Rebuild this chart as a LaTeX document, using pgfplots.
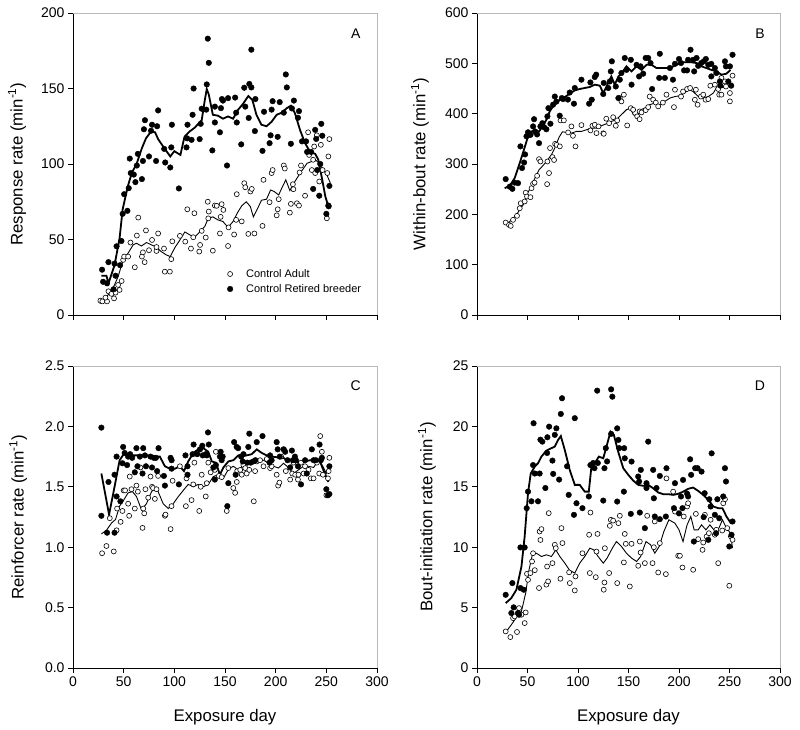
\documentclass[border=0pt]{standalone}
\usepackage{fontspec}
\setmainfont{Liberation Sans}
\usepackage{pgfplots}
\pgfplotsset{compat=1.18}
\pgfplotsset{
  panel/.style={
    scale only axis, width=304pt, height=302pt,
    xmin=0, xmax=300, xtick={0,50,...,300},
    axis x line*=bottom, axis y line*=left,
    axis line style={-, line width=0.8pt, black},
    tick align=outside, major tick length=5pt,
    tick style={black, line width=0.7pt},
    ticklabel style={font=\fontsize{14}{16}\selectfont},
    label style={font=\fontsize{16.8}{19}\selectfont},
    /pgf/number format/assume math mode=true,
    xlabel style={at={(axis description cs:0.5,-0.162)}, anchor=center},
    clip=false,
  },
  openpts/.style={only marks, mark=*, mark size=2.5pt, mark options={fill=white, draw=black, line width=0.6pt},
    legend image code/.code={\draw[##1] plot coordinates {(0pt,0pt)}; \path[draw=none,fill=none] (-3pt,0pt) -- (14pt,0pt);}},
  fullpts/.style={only marks, mark=*, mark size=2.8pt, mark options={fill=black, draw=black},
    legend image code/.code={\draw[##1] plot coordinates {(0pt,0pt)}; \path[draw=none,fill=none] (-3pt,0pt) -- (14pt,0pt);}},
  boldline/.style={no marks, black, line width=1.8pt, forget plot},
  thinline/.style={no marks, black, line width=0.9pt, forget plot},
}
\newcommand{\frameTR}{\draw[gray!55, line width=0.6pt] (rel axis cs:0,1) -- (rel axis cs:1,1) -- (rel axis cs:1,0);}
\begin{document}
\begin{tikzpicture}
\path[use as bounding box] (0,0) rectangle (800pt,729pt);

% ---------------- Panel A ----------------
\begin{axis}[panel, at={(73pt,414pt)}, anchor=south west,
  ymin=0, ymax=200, ytick={0,50,...,200}, xticklabels={},
  ylabel={Response rate (min\textsuperscript{-1})},
  ylabel style={at={(axis description cs:-0.184,0.5)}, anchor=center, rotate=0},
  legend style={at={(rel axis cs:0.503,0.162)}, anchor=north west, draw=none, fill=none,
    font=\fontsize{11}{13}\selectfont, row sep=1.5pt, inner sep=1pt},
  legend cell align=left]
\frameTR
\node[font=\fontsize{14}{16}\selectfont] at (rel axis cs:0.93,0.93) {A};
\addplot[openpts] coordinates {(27,9.5)(29,9)(33.6,9)(32,11.5)(35,15.7)(38,14)(40.5,11)(42,14.8)(44.5,19.9)(46,16.6)(48,22.5)(49.5,36.5)(50.5,38.7)(54.4,38.7)(56.7,48)(61,31.6)(63,52.6)(64.4,64.5)(68,38.7)(69,41.5)(70.7,35)(72,56)(75,42.9)(78,49.7)(82.4,42.4)(84,54)(82.4,45)(90.6,28.7)(95.6,28.7)(89.8,44)(97,37)(98,48.8)(105.5,52.4)(110.8,48.6)(112.8,70)(116.4,44)(118.7,51.5)(119.8,67.4)(124.6,42)(125.4,46.4)(127,55.7)(131,51.3)(133,75)(134,68.5)(133.5,64)(138,42.6)(140,72.5)(141.8,72.3)(145,54)(145.7,65)(146.7,73.4)(148.4,69.6)(153,45.7)(153.5,58)(159,53.3)(161,63)(161.6,80)(166.5,62)(169,87.3)(170,84.6)(173,53.7)(175,81.8)(176.4,83.5)(179,54)(187,59)(188,89.5)(194,74.7)(196,94)(197,96)(201,66)(202,70)(203,76.7)(208,99)(209,97)(214,67.8)(217,86.6)(217.5,83.3)(215,73.6)(221,74)(223,72.5)(223.6,94.4)(225,99)(229,79)(232,121)(233,106)(235.7,96)(237,102.8)(238,111.6)(239,94)(240.6,119)(243,88.4)(244.6,112.7)(246.3,96)(250.5,64)(251,94)(252,105)(253,116.5)};
\addlegendentry{Control Adult}
\addplot[fullpts] coordinates {(28.7,30)(29.7,22)(35,35)(33.6,21)(40,17)(41,34)(42,26)(43,45.5)(46.5,33)(47.8,49)(49,67)(50.5,80)(53.7,69)(55,84)(56,103.6)(57,94)(60,93)(61.6,88)(63,99)(64,106.7)(68,90)(69,102)(70,123)(71,129)(75,105)(77,122)(78,126)(82,102)(83,125)(84,135.5)(90,110)(91,101)(96,97.7)(97,111)(97.6,126)(104.5,83.8)(112,111)(112.6,117)(113,126)(117,116)(118,132.6)(119,150)(125,116.5)(126,126.6)(127,136.6)(132,152.7)(133,183)(134,167)(131.5,136)(137.5,109)(140,138)(140,127.5)(145,121)(146,137)(147,143)(148,142)(153,143.6)(152,99)(160,144)(161,134)(161.6,127.5)(166,113)(169,150.5)(170,138)(174,153)(176,150.7)(173.4,130.5)(176,175.7)(180,143)(179.5,121.8)(187,108.7)(188.5,134.6)(194,113.8)(195,119)(196,136)(197,141.6)(202,118)(204,141)(210,159.3)(211,150.7)(208,134)(215,113.4)(216,136.8)(218,142)(222,130.6)(223,135)(226,115)(230,115)(231,108)(235,108)(237,83.5)(239,122.6)(240,116.6)(241,96)(243,79)(245,126.6)(246,118.7)(244,100)(250,67)(252,72.5)(253,85.5)(252.3,72)};
\addlegendentry{Control Retired breeder}
\addplot[thinline] coordinates {(26.4,7.7)(33,12)(38,16)(41,20)(44.5,25.4)(49.5,36.5)(54.4,41)(59.3,46.4)(62.6,47.5)(67.6,45.7)(72.5,48)(77.5,46.4)(82.4,45)(87,42)(92,39.8)(96,38.7)(100.5,44.6)(105.5,49.7)(110.4,55)(115.4,53)(120,51.5)(125,55)(130,58.6)(133.5,64)(138,65)(143,63)(148,61.9)(153,58)(158,62)(162,67.4)(166.5,72.3)(171,75)(175,71.8)(178,65)(181.5,69.6)(186,76)(191,76.7)(195,82.8)(198.5,81.8)(203,79.5)(206,84)(210,89.5)(214,82.4)(217.5,86.8)(221,90.6)(226,95.7)(231,100.5)(235.7,101.7)(240,102.3)(243,100.5)(247,96)(250.5,92.8)(254,87.3)};
\addplot[boldline] coordinates {(28,26)(33,26)(35,21)(41,33)(46,51)(49,70)(54,85)(58,94)(63,100.5)(68,110.5)(72,117)(77,121.5)(81,121)(84,116.5)(89,111.5)(96,105)(100,108.5)(106,106)(110,118)(115,121.5)(120,124)(127,129)(130,142)(132,149.6)(134,146)(138,132.6)(143,132)(148,130)(153,131.5)(158,130)(163,136)(168,140)(173,145)(177,142.5)(181,132.6)(186,126)(191,125)(196,128)(201,132.6)(206,134)(211,137)(215,138.6)(219,133.7)(224,122.6)(229,113.8)(234,108)(239,106.7)(242,103)(246,89.5)(249,78.5)(252,72)};
\end{axis}

% ---------------- Panel B ----------------
\begin{axis}[panel, at={(477pt,414pt)}, anchor=south west, width=303pt,
  ymin=0, ymax=600, ytick={0,100,...,600}, xticklabels={},
  ylabel={Within-bout rate (min\textsuperscript{-1})},
  ylabel style={at={(axis description cs:-0.188,0.5)}, anchor=center}]
\frameTR
\node[font=\fontsize{14}{16}\selectfont] at (rel axis cs:0.934,0.93) {B};
\addplot[openpts] coordinates {(28.4,183.7)(31.7,179)(33.4,177)(35.7,189)(39.6,197)(42.3,212)(43.3,222)(47.2,225.5)(48.2,243)(49.5,235.4)(52.9,234)(54,252)(55.5,260.6)(57,263)(59.5,276.5)(61.4,309.7)(62.8,305)(69.4,260)(69.7,305)(71.3,282)(72.3,331.6)(74.7,313.7)(76.3,308)(77.3,340)(78.8,338)(82,335)(82.7,386.6)(86,386.6)(90.2,362.7)(93.5,374.7)(95,356)(97.5,335)(103.4,377.3)(112.3,366.7)(114.3,376)(116.6,378)(118.3,361.4)(120.3,374.7)(125,361)(125.5,360)(128,390)(130.8,381)(134.8,393)(137.4,376)(138.8,386.6)(141.4,431)(143,424.4)(145.4,437.7)(148.7,376.6)(152.3,411)(154.6,407.8)(158.6,394.6)(161,404.5)(161,389)(162.9,402.5)(167,407)(169.5,413)(171,434)(174.4,427.7)(177,422)(179.4,414.5)(184,422)(187.6,437.7)(195,413)(196,447.6)(202,434)(204,444)(208,449)(211,451)(215.7,427.7)(218.4,417.8)(216.7,447.6)(221.7,434)(224,437.7)(226.3,427.7)(229,429)(231,455.6)(235.5,457.6)(238.8,449)(239.8,437.7)(242,437.7)(242,471)(245.5,464)(246.5,454)(250.4,441)(250.4,424.4)(253,475.5)};
\addplot[fullpts] coordinates {(28.4,270)(32.4,255)(35,250.7)(37.3,263)(40.6,262)(43,335)(44.6,292)(46.6,303)(47.6,319)(49,355)(50.5,363)(51.5,358)(53,358)(55.5,374.7)(56.5,389)(57.5,364.7)(59.5,358.8)(61.4,341.5)(62.8,374.7)(64.7,381)(66.4,373)(68.7,369)(69.7,394.6)(70.7,411)(72.7,380)(75.3,417.8)(77,434)(78.6,424)(81.9,396)(84,431)(85.2,429)(90,428)(91.8,442)(96.8,451)(96,419.8)(103.4,467.5)(111,419.8)(112.3,462)(113.6,427.7)(116.6,472.8)(118,477.5)(125,439)(125.5,461)(130,451)(131.5,464)(132.5,484)(133.5,504)(137.4,454)(140,431)(141.4,467.5)(143,480.8)(146.3,510.6)(148,487)(152.3,507)(153,457.6)(158,497)(160.5,474)(161.9,494)(164.5,479.4)(167,510.6)(169.5,510.6)(171.8,500.6)(181,519)(180.4,471)(173.4,449)(186,471)(191,490.7)(194,467.5)(196,499)(200,508.6)(202,500.6)(205,486)(208,486)(209,507)(211.4,527)(214,507)(215,484)(217.4,510.6)(219,495)(222,500.6)(224.6,504)(226.6,508.6)(229,497)(232,499)(232,474)(235.5,490.7)(237,480.8)(240.5,464)(241,455.6)(245.5,504)(246.5,494)(248.8,464)(250.4,494)(253,517)(251.7,455.6)};
\addplot[thinline] coordinates {(28.4,181)(32.4,185.7)(35.7,192.3)(39,199)(42.3,209)(46.3,220.8)(50,242)(53.8,255.3)(58,275)(61.4,288.5)(65.4,297)(68.7,305)(73.7,318.3)(77,331.6)(81.3,353.4)(84.6,364)(88.5,362.7)(93.5,361.4)(98.4,364.7)(103.4,364.7)(108.4,368)(113.3,371)(118.3,371)(123.2,376)(128.2,380)(133,384.6)(138,388)(143,398)(148,408)(152.3,411)(154.6,398)(158,394.6)(162,407.8)(166,411)(171,417.8)(176,421)(181,417.8)(186,424.4)(191,431)(196,434)(201,435.7)(206,442)(210,447.6)(214,444)(219,434)(224,431)(229,434)(234,441)(237,451)(241,453)(245.5,451)(250.4,457.6)(253,461)};
\addplot[boldline] coordinates {(27.4,252)(32.4,256.6)(37.3,272)(42.3,301.7)(47,331.6)(50.5,354.8)(53.8,364.7)(57,366)(61.4,364.7)(65.4,376)(68.7,388)(72,404.5)(75.3,414.5)(78.6,421)(82,427.7)(87,433)(91.8,439.7)(96.8,446.3)(101.7,449)(106.7,451)(111.7,453)(116.6,457.6)(121.6,455.6)(125,441)(128,453)(133,474)(136.4,457.6)(140,474)(143,479.4)(148,494)(153,484)(158,494)(163,487)(167.8,497)(172.8,497)(177.7,490.7)(184,490.7)(191,490.7)(197.6,497)(202.5,502)(207.5,502)(212.4,502)(217.4,500.6)(222.3,494)(227,490.7)(232,487)(237,484)(242,477.5)(247,479.4)(251,487)};
\end{axis}

% ---------------- Panel C ----------------
\begin{axis}[panel, at={(73pt,61pt)}, anchor=south west,
  ymin=0, ymax=2.5, ytick={0,0.5,...,2.5},
  yticklabel style={/pgf/number format/.cd, fixed, fixed zerofill, precision=1},
  xlabel={Exposure day},
  ylabel={Reinforcer rate (min\textsuperscript{-1})},
  ylabel style={at={(axis description cs:-0.18,0.5)}, anchor=center}]
\frameTR
\node[font=\fontsize{14}{16}\selectfont] at (rel axis cs:0.93,0.934) {C};
\addplot[openpts] coordinates {(28.7,0.95)(33,1.01)(36.3,1.24)(40.2,0.965)(43,1.14)(43.5,1.32)(47,1.21)(48.8,1.30)(50,1.47)(51.4,1.47)(54.4,1.36)(55.4,1.26)(56,1.585)(57.7,1.48)(61,1.32)(62.6,1.51)(64,1.46)(66.6,1.66)(68.6,1.16)(69.3,1.32)(70.3,1.28)(71.5,1.48)(74.2,1.41)(76.5,1.585)(78,1.50)(79,1.49)(80.8,1.40)(82.4,1.48)(84,1.59)(90.7,1.26)(91.3,1.27)(96.3,1.15)(97.2,1.34)(98.3,1.55)(105.5,1.67)(111.4,1.34)(112,1.57)(117,1.39)(118.7,1.52)(119.8,1.70)(124.6,1.30)(126,1.50)(127,1.60)(131,1.42)(132,1.53)(133.5,1.70)(135.8,1.62)(140,1.64)(141,1.79)(144,1.59)(146.7,1.58)(151.7,1.30)(153.3,1.655)(158.2,1.49)(160,1.45)(161.6,1.54)(162,1.63)(165,1.64)(166.5,1.60)(168.2,1.68)(170,1.655)(171.4,1.61)(174,1.64)(178.4,1.38)(179.7,1.63)(181.3,1.71)(184.6,1.72)(188,1.67)(191.2,1.73)(194.5,1.655)(196,1.67)(201,1.60)(202.4,1.51)(203.7,1.535)(205.4,1.75)(207.7,1.81)(210,1.63)(214.3,1.56)(216.3,1.61)(217.6,1.70)(219.3,1.60)(222,1.56)(222.5,1.60)(225,1.70)(227.5,1.61)(229,1.67)(232.4,1.64)(234.7,1.57)(237.4,1.57)(240.7,1.70)(243,1.61)(244,1.92)(245.6,1.79)(246.6,1.60)(250,1.43)(251.6,1.57)(253,1.74)(252.3,1.63)};
\addplot[fullpts] coordinates {(28,1.99)(28,1.26)(33.6,1.12)(35,1.54)(41,1.12)(41,1.60)(43,1.75)(43,1.42)(46.8,1.38)(48.8,1.695)(49.5,1.83)(51,1.78)(53.4,1.68)(54.4,1.75)(56.4,1.77)(58.4,1.74)(61,1.62)(62.6,1.82)(63.6,1.67)(66,1.75)(68.6,1.61)(69.3,1.82)(71,1.76)(72,1.67)(76.5,1.75)(78,1.66)(79.8,1.74)(81.8,1.74)(83,1.63)(84.4,1.82)(89.7,1.59)(90.7,1.51)(96.3,1.74)(97.3,1.72)(97.3,1.65)(104.5,1.52)(111,1.76)(113,1.60)(113,1.67)(118,1.77)(119,1.85)(122.6,1.77)(125.3,1.81)(127.6,1.84)(128,1.76)(131,1.77)(133.2,1.95)(134,1.85)(132,1.76)(138.5,1.66)(140,1.56)(141,1.68)(145.7,1.79)(146.7,1.72)(145,1.75)(147.7,1.75)(152.3,1.34)(153.3,1.53)(159,1.87)(160.5,1.60)(161.5,1.83)(163,1.82)(166,1.75)(167.5,1.71)(168.2,1.77)(172,1.70)(173,1.83)(174,1.94)(175.4,1.70)(178,1.71)(180,1.72)(181.3,1.87)(187,1.92)(194,1.70)(194.5,1.76)(196,1.72)(201,1.87)(202,1.81)(204,1.75)(208,1.81)(209.4,1.79)(211.7,1.72)(214.3,1.66)(216,1.80)(217,1.72)(220,1.72)(222,1.67)(225,1.52)(219,1.75)(229,1.72)(230.7,1.61)(235.7,1.81)(237.4,1.72)(239.7,1.72)(243.3,1.85)(244.6,1.72)(245.6,1.74)(250,1.48)(251.6,1.43)(253,1.67)(253,1.44)};
\addplot[thinline] coordinates {(28,1.11)(33,1.14)(38,1.20)(42,1.23)(46,1.34)(50,1.39)(54.4,1.45)(58.7,1.46)(62.6,1.42)(67.6,1.31)(72.5,1.36)(77.5,1.46)(80.8,1.49)(84,1.46)(89,1.36)(94,1.32)(98.9,1.36)(104,1.42)(108.8,1.47)(113.7,1.52)(118.7,1.50)(123.6,1.52)(128.6,1.50)(133.5,1.52)(138.5,1.585)(143.4,1.60)(148.4,1.57)(153.3,1.645)(158.2,1.67)(163.2,1.64)(168.2,1.67)(173,1.695)(178,1.71)(183,1.73)(188,1.72)(193,1.695)(198,1.67)(202.8,1.655)(207.7,1.695)(212.6,1.66)(217.6,1.61)(222.5,1.64)(227.5,1.67)(232.4,1.67)(237.4,1.66)(242.3,1.72)(246.6,1.67)(250,1.61)(253,1.66)};
\addplot[boldline] coordinates {(28,1.61)(35.6,1.27)(41,1.50)(46,1.72)(50,1.77)(54.4,1.77)(59.3,1.76)(66,1.76)(72.5,1.76)(79,1.75)(85.7,1.75)(90.7,1.67)(95.6,1.65)(100.6,1.65)(105.5,1.67)(109.5,1.63)(113.7,1.71)(118.7,1.78)(123.6,1.81)(128.6,1.82)(133.5,1.79)(137,1.71)(141,1.70)(145,1.60)(148.4,1.66)(153.3,1.71)(158.2,1.72)(163.2,1.76)(167.5,1.76)(171.4,1.76)(176.4,1.77)(181.3,1.81)(186.3,1.78)(191.2,1.76)(196,1.75)(201,1.745)(206,1.75)(211,1.72)(216,1.72)(220,1.71)(224,1.70)(229,1.71)(234,1.72)(239,1.71)(243.3,1.72)(247,1.64)(252,1.54)};
\end{axis}

% ---------------- Panel D ----------------
\begin{axis}[panel, at={(477pt,61pt)}, anchor=south west, width=303pt,
  ymin=0, ymax=25, ytick={0,5,...,25},
  xlabel={Exposure day},
  ylabel={Bout-initiation rate (min\textsuperscript{-1})},
  ylabel style={at={(axis description cs:-0.165,0.5)}, anchor=center}]
\frameTR
\node[font=\fontsize{14}{16}\selectfont] at (rel axis cs:0.934,0.934) {D};
\addplot[openpts] coordinates {(28.4,3.03)(33,2.56)(35.7,4.13)(37.3,4.27)(39.6,2.98)(41.6,4.96)(44,4.41)(47.2,3.72)(48.2,4.6)(49.5,7.8)(50.5,7.3)(52.9,7.86)(54.5,8.82)(55.5,9.5)(57.2,8.1)(61.4,6.62)(62,11.3)(62.8,10.6)(63.8,11.5)(68.7,6.9)(69.4,8.4)(70.4,7.17)(71,12.82)(74.7,8.68)(77,10.2)(78,9.92)(82.6,7.39)(83.6,11.58)(84.6,10.34)(91.2,7.92)(91.9,7.03)(96.8,6.42)(97.5,7.58)(104.4,9.5)(111,11.03)(111.7,7.86)(112.3,12.87)(117.6,7.52)(118.3,9.64)(119.3,11.1)(125.5,6.48)(126.2,7.08)(126.6,9.92)(130.8,7.86)(131.5,11.77)(132.5,12.27)(134.8,12.2)(138.8,7.03)(140,11.99)(141.4,12.6)(145.4,8.74)(146.3,11.1)(147.3,10.28)(151.3,6.75)(153,10.28)(159.6,8.46)(161.2,10.47)(162,9.56)(166.2,8.68)(168.5,12.6)(173.8,8.68)(175.1,10.0)(176,12.13)(179.4,7.91)(181,10.34)(187.6,15.7)(187,7.77)(194.2,14.6)(196,12.95)(199.2,9.29)(200.9,9.29)(203.4,8.32)(204.7,12.54)(208,13.37)(209,13.64)(214,8.13)(216.7,12.76)(219,10.67)(223.3,9.78)(224,10.39)(225.6,12.68)(227.3,10.89)(229.6,11.16)(231.3,12.27)(235.5,11.03)(237,11.44)(238.8,8.68)(242.8,11.38)(243.8,13.64)(245.5,13.97)(247.8,11.58)(249.8,6.81)(251.4,10.89)(253,10.61)};
\addplot[fullpts] coordinates {(28.4,6.06)(34,4.55)(35,7.03)(36.3,5.02)(40.6,4.55)(41.6,4.41)(43,9.98)(43,6.62)(46.3,6.48)(47.2,9.98)(49.2,13.23)(50.5,14.6)(53.9,13.8)(55.5,16.8)(56,20.26)(57.2,16.1)(60.4,13.8)(62,16.1)(62.8,18.9)(64.7,18.74)(67.7,14.9)(69.4,17.8)(69.7,19.1)(71.4,19.98)(74.7,17.17)(75.4,16.07)(77,19.3)(78.6,19.84)(81.3,15.6)(83,21.03)(84.2,22.33)(89.2,16.7)(90.8,14.33)(96.8,20.68)(96,12.68)(98.5,13.64)(104.4,13.23)(110.7,14.2)(112.3,16.8)(115,16.97)(116.3,16.54)(119,22.96)(119.6,16.97)(125,13.86)(126.2,16.54)(127.5,18.2)(128.8,17.1)(132.8,23.07)(134,22.46)(132.8,19.38)(138.8,19.84)(138.8,13.78)(140,18.88)(140.8,18.2)(145.7,18.2)(146.3,17.36)(145.4,14.6)(153,17.09)(152.3,12.76)(159.6,15.85)(160.5,15.44)(161.2,12.87)(162.2,16.4)(166.2,11.58)(167.8,14.9)(167.8,15.3)(169.5,18.74)(174.4,16.4)(175.1,14.05)(176,12.54)(177.7,14.9)(181,12.32)(181,15.9)(187.6,16.54)(187,12.54)(195,13.23)(196,15.3)(200,12.8)(202,14.2)(204,15.57)(203.4,13.23)(208,14.44)(209,14.2)(211,17.28)(212,15.99)(214.7,10.47)(216,16.54)(218.4,16.54)(222.3,16.26)(224.4,12.49)(225.4,14.47)(229,10.61)(230,13.97)(232.3,17.77)(231.3,13.37)(235.5,12.68)(236.7,11.16)(238,13.97)(239.8,12.4)(243.8,14.2)(245.5,16.54)(246.5,15.44)(249.8,10.06)(253,12.13)(252,11.03)};
\addplot[thinline] coordinates {(28.4,2.95)(34,3.58)(39.6,4.27)(44,4.69)(48.2,6.2)(51.5,8.13)(54.8,9.37)(58.8,9.5)(63.8,9.23)(68.7,9.37)(73.7,9.23)(78,9.78)(82,9.23)(87,8.68)(91.8,8.08)(96.8,7.86)(101.7,8.68)(106.7,9.23)(111.7,9.92)(115.6,9.78)(119.9,9.23)(125,8.68)(128.8,9.1)(134,9.92)(138,10.47)(143,10.06)(148,9.5)(153,9.1)(158,8.82)(162,9.23)(167.3,10.47)(171.8,10.2)(176,9.5)(180.4,10.06)(185,11.3)(190,12.27)(195.9,11.99)(200,11.44)(204,10.47)(208,11.85)(211.7,12.54)(215,11.44)(219,11.44)(222.3,11.85)(226.6,11.44)(230.6,11.85)(234.5,11.44)(238.8,11.44)(243,12.27)(247,11.58)(251,11.16)(253,9.92)};
\addplot[boldline] coordinates {(28.4,5.37)(34,5.79)(39,6.48)(44,8.4)(47.2,10.9)(50.5,14.47)(53.2,16.1)(57.2,16.68)(60.4,16.95)(63.8,17.5)(68.7,18.0)(73.7,18.2)(77,18.33)(80.3,18.88)(83,19.2)(86.9,18.05)(91.8,16.4)(96.8,15.16)(101.7,15.16)(106.7,14.6)(110.7,14.6)(113.3,16.68)(116.6,16.95)(120.6,17.5)(125,17.36)(128.2,18.33)(132.2,19.57)(135.5,19.3)(139.8,17.9)(144.8,16.54)(149.8,15.99)(154.6,15.52)(159.6,15.16)(164.5,15.08)(169.5,15.16)(174.4,14.88)(179.4,14.53)(184.3,14.39)(189.3,14.39)(194.2,14.33)(199.2,14.42)(204.2,14.6)(209,14.83)(214,14.94)(219,14.66)(224,14.33)(229,13.92)(234,13.37)(239,13.23)(243,13.23)(247,12.54)(251.4,11.99)(253,11.99)};
\end{axis}
\end{tikzpicture}
\end{document}
